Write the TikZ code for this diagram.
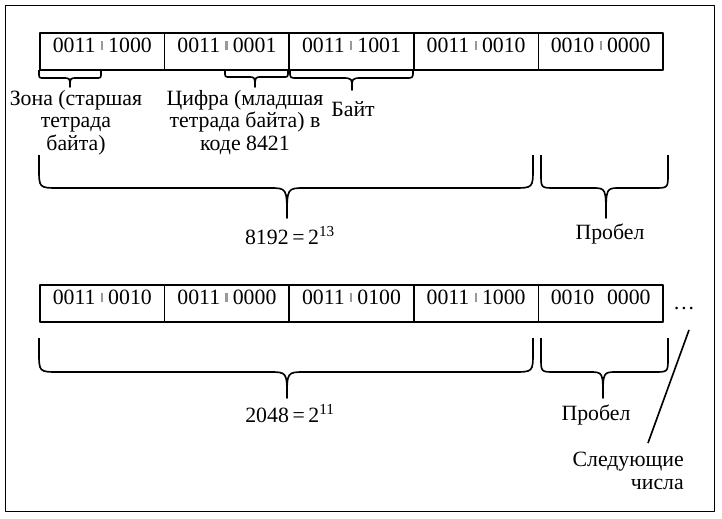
\documentclass[tikz,border=0pt]{standalone}
\usepackage{fontspec}
\setmainfont{Liberation Serif}
\usepackage{tikz}
\usetikzlibrary{positioning}

\newcommand{\nib}{\hspace{0.24em}{\color{black!40}\rule[0.1em]{0.1em}{0.4em}}\hspace{0.24em}}
\newcommand{\nibgap}{\hspace{0.58em}}
\newcommand{\brc}[8]{%
  \draw[brace] (#1,#4) -- (#1,{#5-#7}) .. controls (#1,#5) .. ({#1+#7},#5)
    -- ({#3-#8},#5) .. controls (#3,#5) .. (#3,#6)
    .. controls (#3,#5) .. ({#3+#8},#5)
    -- ({#2-#7},#5) .. controls (#2,#5) .. (#2,{#5-#7}) -- (#2,#4);}
\tikzset{
  cell/.style={draw,line width=1.4pt,minimum width=37.38mm,inner xsep=0pt,inner ysep=0pt,
    text height=5.7mm,text depth=5.4mm},
  brace/.style={line width=1.4pt},
  lbl/.style={inner sep=0pt,align=center}
}

\begin{document}
\begin{tikzpicture}[x=0.03cm,y=-0.03cm,font=\fontsize{18.6}{19.2}\selectfont,line join=round]
\useasboundingbox (0,0) rectangle (722,518);
\draw[line width=0.8pt] (5,5) rectangle (714,511);

\foreach \t [count=\i] in {0011\nib1000,0011\nib0001,0011\nib1001,0011\nib0010,0010\nib0000}
  \node[cell] (top\i) at ({102.3+(\i-1)*124.6},51.5) {\t};
\foreach \t [count=\i] in {0011\nib0010,0011\nib0000,0011\nib0100,0011\nib1000,0010\nibgap0000}
  \node[cell] (bot\i) at ({102.3+(\i-1)*124.6},303.5) {\t};

\brc{39}{101}{70}{70}{78}{87}{5}{7}
\brc{225}{288}{255}{70}{77}{87}{5}{7}
\brc{290}{413}{352}{70}{78}{90}{7}{10}
\brc{39}{533}{287}{155}{188}{218}{20}{18}
\brc{541}{668}{606}{155}{188}{218}{14}{14}
\brc{39}{533}{287}{338}{372}{398}{20}{18}
\brc{541}{668}{603}{338}{372}{398}{14}{14}

\node[lbl,anchor=north] (zona) at (76,90) {Зона (старшая\\тетрада\\байта)};
\node[lbl,anchor=north] (cifra) at (245,90) {Цифра (младшая\\тетрада байта) в\\коде 8421};
\node[lbl,anchor=base] (bajt) at (353,116) {Байт};
\node[lbl,anchor=base] (sum1) at (290,244) {8192\,=\,2\textsuperscript{13}};
\node[lbl,anchor=base] (prob1) at (610,239) {Пробел};
\node[lbl,anchor=base] (sum2) at (290,422) {2048\,=\,2\textsuperscript{11}};
\node[lbl,anchor=base] (prob2) at (596,420) {Пробел};
\node[lbl,anchor=base] (dots) at (684,309) {\dots};
\node[lbl,anchor=north east,align=right] (next) at (684,452) {Следующие\\числа};

\coordinate (s1) at (689,330);
\coordinate (s2) at (648,443);
\draw[brace] (s1) -- (s2);
\end{tikzpicture}
\end{document}
